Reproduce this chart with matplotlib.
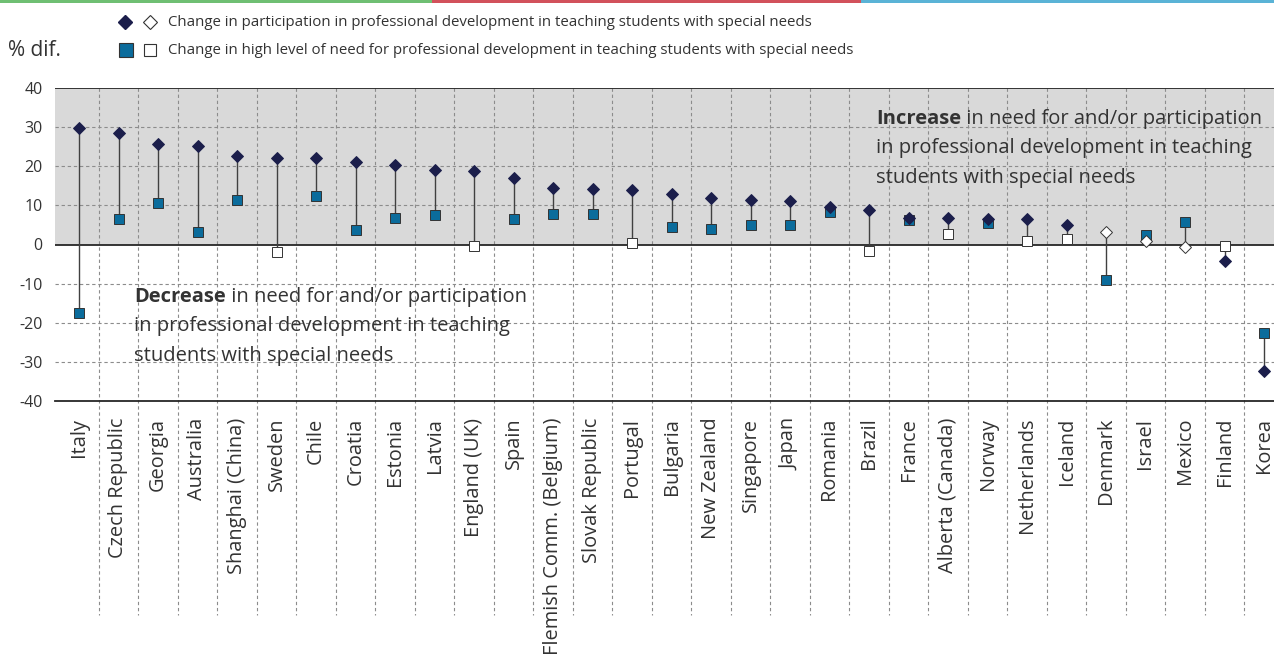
import matplotlib.pyplot as plt
from matplotlib.lines import Line2D
from matplotlib.patches import Rectangle
import numpy as np

countries = ["Italy", "Czech Republic", "Georgia", "Australia", "Shanghai (China)",
             "Sweden", "Chile", "Croatia", "Estonia", "Latvia", "England (UK)", "Spain",
             "Flemish Comm. (Belgium)", "Slovak Republic", "Portugal", "Bulgaria",
             "New Zealand", "Singapore", "Japan", "Romania", "Brazil", "France",
             "Alberta (Canada)", "Norway", "Netherlands", "Iceland", "Denmark", "Israel",
             "Mexico", "Finland", "Korea"]

# change in participation (diamonds) and in high level of need (squares), % points
participation = [29.8, 28.6, 25.6, 25.2, 22.7, 22.2, 22.1, 21.0, 20.2, 19.0, 18.9, 17.0,
                 14.4, 14.3, 13.9, 12.9, 12.0, 11.5, 11.2, 9.6, 8.9, 6.8, 6.7, 6.6, 6.5,
                 4.9, 3.3, 0.9, -0.7, -4.3, -32.3]
need = [-17.4, 6.6, 10.7, 3.3, 11.3, -2.0, 12.4, 3.6, 6.8, 7.6, -0.5, 6.5, 7.7, 7.7, 0.5,
        4.4, 3.9, 4.9, 5.1, 8.3, -1.7, 6.2, 2.7, 5.5, 1.0, 1.3, -9.0, 2.4, 5.8, -0.3, -22.6]

# filled marker = significant change, hollow = not significant
participation_sig = [True] * 26 + [False, False, False, True, True]
need_sig = [True, True, True, True, True, False, True, True, True, True, False, True,
            True, True, False, True, True, True, True, True, False, True, False, True,
            False, False, True, True, True, False, True]

navy = "#1b1e4b"
blue = "#0b6c9c"
text_col = "#333333"

plt.rcParams['font.family'] = ['Open Sans', 'Noto Sans', 'DejaVu Sans']

fig = plt.figure(figsize=(12.74, 6.58), dpi=100)
W, H = 1274, 658
ax = fig.add_axes([55 / W, 1 - 401 / H, 1 - 55 / W, 313 / H])

x = np.arange(len(countries))
part = np.array(participation)
nd = np.array(need)
psig = np.array(participation_sig)
nsig = np.array(need_sig)

ax.set_xlim((55 - 79) / 39.5, (W - 79) / 39.5)
ax.set_ylim(-40, 40)

# background and reference lines
ax.axhspan(0, 40, color="#d9d9d9", zorder=0, lw=0)
for yv in [30, 20, 10, -10, -20, -30]:
    ax.axhline(yv, color="#8c8c8c", lw=0.8, ls=(0, (3, 2.5)), zorder=1)
for xv in x[:-1] + 0.5:
    ax.plot([xv, xv], [1, -0.684], transform=ax.get_xaxis_transform(), clip_on=False,
            color="#8c8c8c", lw=0.8, ls=(0, (3, 2.5)), zorder=1)
for yv in [40, 0]:
    ax.axhline(yv, color="#262626", lw=1.3, zorder=2)

for side in ["left", "right", "top"]:
    ax.spines[side].set_visible(False)
ax.spines["bottom"].set_color("#262626")
ax.spines["bottom"].set_linewidth(1.3)

# connectors
ax.vlines(x, nd, part, color="#404040", lw=1.0, zorder=3)

# squares
ax.plot(x[nsig], nd[nsig], ls="none", marker="s", ms=6.6, mfc=blue, mec="#333333",
        mew=0.7, zorder=4)
ax.plot(x[~nsig], nd[~nsig], ls="none", marker="s", ms=6.6, mfc="white", mec="#333333",
        mew=0.7, zorder=4)
# diamonds
ax.plot(x[psig], part[psig], ls="none", marker="D", ms=6.0, mfc=navy, mec=navy,
        mew=0.7, zorder=5)
ax.plot(x[~psig], part[~psig], ls="none", marker="D", ms=6.0, mfc="white", mec="#333333",
        mew=0.7, zorder=5)

ax.set_yticks([40, 30, 20, 10, 0, -10, -20, -30, -40])
ax.set_yticklabels(["40", "30", "20", "10", "0", "-10", "-20", "-30", "-40"])
ax.set_xticks(x)
ax.set_xticklabels(countries, rotation=90, va="top", ha="center")
ax.tick_params(axis="y", length=0, pad=9, labelsize=11.5, labelcolor=text_col)
ax.tick_params(axis="x", length=0, pad=12, labelsize=14.4, labelcolor=text_col)

# annotations
fs = 14.5
t = ax.text(1.39, -13.4, "Decrease", fontweight="bold", fontsize=fs, va="center",
            color=text_col, zorder=6)
ax.annotate(" in need for and/or participation", xy=(1, 0), xycoords=t, va="bottom",
            fontsize=fs, color=text_col, zorder=6)
ax.text(1.39, -20.8, "in professional development in teaching", fontsize=fs,
        va="center", color=text_col, zorder=6)
ax.text(1.39, -28.4, "students with special needs", fontsize=fs, va="center",
        color=text_col, zorder=6)

t2 = ax.text(20.18, 32.0, "Increase", fontweight="bold", fontsize=fs, va="center",
             color=text_col, zorder=6)
ax.annotate(" in need for and/or participation", xy=(1, 0), xycoords=t2, va="bottom",
            fontsize=fs, color=text_col, zorder=6)
ax.text(20.18, 24.6, "in professional development in teaching", fontsize=fs,
        va="center", color=text_col, zorder=6)
ax.text(20.18, 16.9, "students with special needs", fontsize=fs, va="center",
        color=text_col, zorder=6)

# legend (drawn by hand, two marker styles per row)
r1 = 1 - 22 / H
r2 = 1 - 50 / H
fig.add_artist(Line2D([125 / W], [r1], marker="D", ms=7, mfc=navy, mec=navy,
                      transform=fig.transFigure))
fig.add_artist(Line2D([150 / W], [r1], marker="D", ms=7, mfc="white", mec="#333333",
                      mew=0.8, transform=fig.transFigure))
fig.add_artist(Line2D([126 / W], [r2], marker="s", ms=9.5, mfc=blue, mec="#333333",
                      mew=0.8, transform=fig.transFigure))
fig.add_artist(Line2D([150 / W], [r2], marker="s", ms=9.2, mfc="white", mec="#333333",
                      mew=0.8, transform=fig.transFigure))
fig.text(168 / W, r1, "Change in participation in professional development in teaching students with special needs",
         fontsize=10.85, va="center", color=text_col)
fig.text(168 / W, r2, "Change in high level of need for professional development in teaching students with special needs",
         fontsize=10.85, va="center", color=text_col)
fig.text(8 / W, r2, "% dif.", fontsize=15, va="center", color=text_col)

# coloured strip along the top edge
for x0, x1, c in [(0, 432, "#6fbf73"), (432, 861, "#d2515b"), (861, 1274, "#5ab3d6")]:
    fig.add_artist(Rectangle((x0 / W, 1 - 3 / H), (x1 - x0) / W, 3 / H,
                             transform=fig.transFigure, color=c, lw=0))

fig.savefig("out.png", dpi=100)
